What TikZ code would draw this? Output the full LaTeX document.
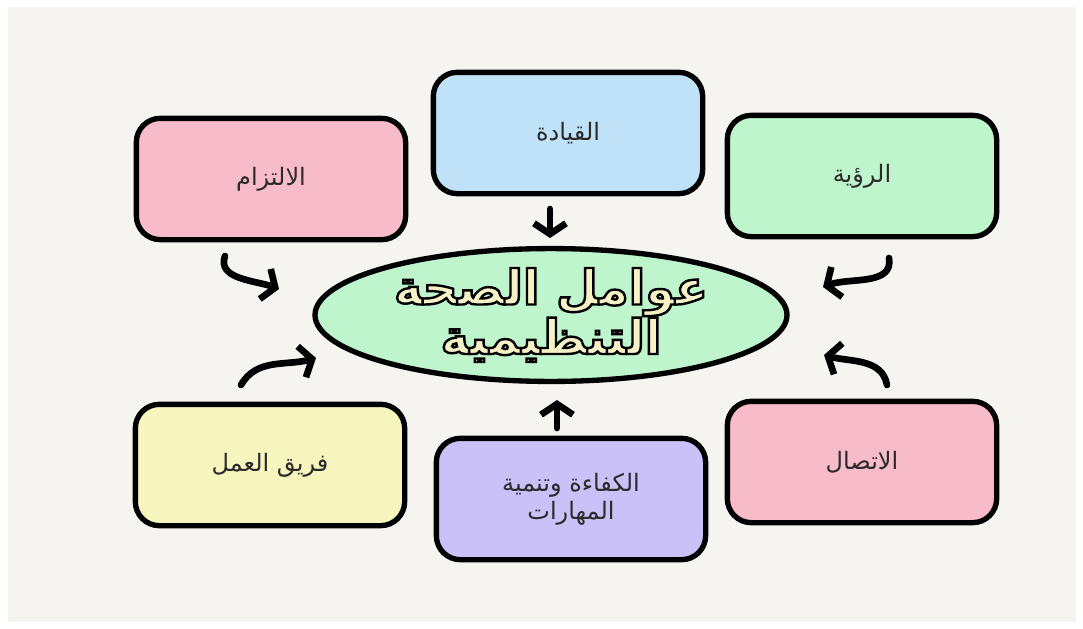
\documentclass[tikz,border=0pt]{standalone}
\usepackage{fontspec}
\usetikzlibrary{arrows.meta,shapes.geometric}
\TeXXeTstate=1
\newfontfamily\arabicfont[Script=Arabic]{DejaVu Sans}
\definecolor{paper}{HTML}{F5F4F1}
\definecolor{pinkbox}{HTML}{F8BBC9}
\definecolor{bluebox}{HTML}{BFE2F8}
\definecolor{greenbox}{HTML}{BFF5CC}
\definecolor{yellowbox}{HTML}{F6F5BE}
\definecolor{purplebox}{HTML}{C9C1F8}
\definecolor{textgray}{HTML}{2B2B2B}
\definecolor{titlefill}{HTML}{F7F1C8}
% outlined title text (fill + stroke)
\newcommand\outlinetext[1]{\special{pdf:literal direct 0 0 0 RG 1.8 w 2 Tr}#1\special{pdf:literal direct 0 Tr}}
\tikzset{
  % rounded box for one factor
  factor/.style={
    draw=black, line width=4pt, rounded corners=18pt,
    fill=#1, text=textgray, align=center,
    minimum width=202pt, minimum height=91pt,
    font=\arabicfont\fontsize{18}{21}\selectfont
  },
  % the central ellipse
  core/.style={
    ellipse, draw=black, line width=4pt, fill=greenbox,
    minimum width=354pt, minimum height=97pt, align=center,
    inner sep=0pt,
    font=\arabicfont\bfseries\fontsize{36}{21}\selectfont
  },
  % thick hand drawn arrow
  push/.style={
    line width=5pt, line cap=round,
    -{Straight Barb[length=8pt,width=24pt]}
  },
}

\begin{document}
\begin{tikzpicture}[x=0.75pt,y=-0.75pt]

% Paper
\fill[white] (0,0) rectangle (1083,629);
\fill[paper] (8,7) rectangle (1076,622);
\useasboundingbox (0,0) rectangle (1083,629);

% Centre
\node[core] (health) at (551,315) {\color{titlefill}\outlinetext{\beginR عوامل الصحة\endR}\\ \color{titlefill}\outlinetext{\beginR التنظيمية\endR}};

% Factors
\node[factor=pinkbox]   (commit) at (271,179) {\beginR الالتزام\endR};
\node[factor=bluebox]   (lead)   at (568,133) {\beginR القيادة\endR};
\node[factor=greenbox]  (vision) at (862,176) {\beginR الرؤية\endR};
\node[factor=yellowbox] (team)   at (270,465) {\beginR فريق العمل\endR};
\node[factor=purplebox] (skills) at (571,499) {\beginR الكفاءة وتنمية\endR\\ \beginR المهارات\endR};
\node[factor=pinkbox]   (comm)   at (862,462) {\beginR الاتصال\endR};

% Arrow ends
\coordinate (commit-a) at (225,256);
\coordinate (commit-b) at (279,289);
\coordinate (lead-a)   at (550,209);
\coordinate (lead-b)   at (550,238);
\coordinate (vision-a) at (889,258);
\coordinate (vision-b) at (823,287);
\coordinate (team-a)   at (241,385);
\coordinate (team-b)   at (316,358);
\coordinate (skills-a) at (557,428);
\coordinate (skills-b) at (557,400);
\coordinate (comm-a)   at (887,385);
\coordinate (comm-b)   at (824,355);

% Arrows
\draw[push] (commit-a) to[out=-110,in=160] (commit-b);
\draw[push] (lead-a) -- (lead-b);
\draw[push] (vision-a) to[out=-80,in=20] (vision-b);
\draw[push] (team-a) to[out=60,in=195] (team-b);
\draw[push] (skills-a) -- (skills-b);
\draw[push] (comm-a) to[out=100,in=-15] (comm-b);

\end{tikzpicture}
\end{document}
